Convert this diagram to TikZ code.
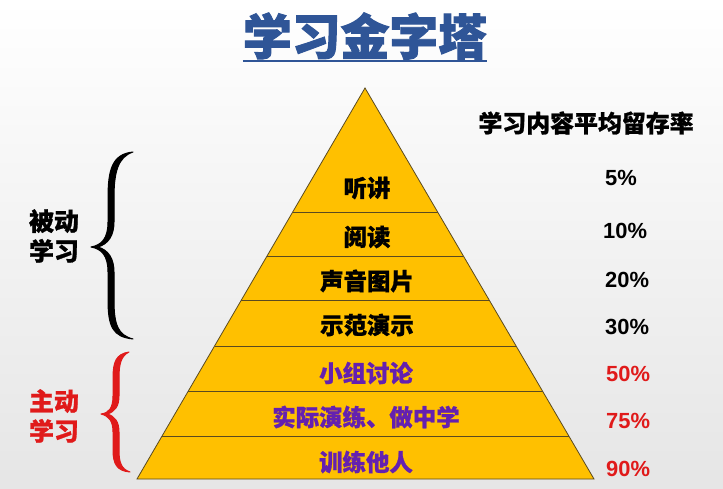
\documentclass[tikz,border=0pt]{standalone}
\usepackage{fontspec}
\usetikzlibrary{calc}
\newfontfamily\cjk{Noto Sans CJK SC}[BoldFeatures={FakeBold=1}]
\newfontfamily\cjkt{Noto Sans CJK SC}[BoldFeatures={FakeBold=2}]
\newfontfamily\lat{Liberation Sans}
\definecolor{pyrfill}{HTML}{FFC000}
\definecolor{pyredge}{HTML}{5A4A20}
\definecolor{titleblue}{HTML}{2F5597}
\definecolor{purp}{HTML}{6420B0}
\definecolor{redtxt}{HTML}{E01A1A}
\tikzset{
  layer/.style={font=\cjk\bfseries\fontsize{23.5}{26}\selectfont, inner sep=0pt},
  pct/.style={font=\lat\bfseries\fontsize{22}{24}\selectfont, inner sep=0pt, anchor=west},
  side/.style={font=\cjk\bfseries\fontsize{25}{30}\selectfont, inner sep=0pt, align=left},
  sep/.style={draw=pyredge, line width=0.8bp},
  bracestyle/.style={line width=1bp, line cap=round, line join=round}
}
\begin{document}
\begin{tikzpicture}[x=1bp,y=-1bp]
\useasboundingbox (0,0) rectangle (723,489);
\shade[top color=white, bottom color=black!10] (0,0) rectangle (723,489);
% title
\node[font=\cjkt\bfseries\fontsize{49}{52}\selectfont, text=titleblue, inner sep=0pt] (title) at (365,36) {学习金字塔};
\draw[titleblue, line width=2.2bp] (title.south west |- 0,61) coordinate (ul1) -- (title.south east |- 0,61) coordinate (ul2);
% pyramid
\coordinate (apex) at (365,88);
\coordinate (bl) at (137,479);
\coordinate (br) at (594,479);
\filldraw[fill=pyrfill, draw=pyredge, line width=0.8bp] (apex) -- (bl) -- (br) -- cycle;
\foreach \t in {0.317,0.430,0.542,0.660,0.777,0.890}
  \draw[sep] ($(apex)!\t!(bl)$) -- ($(apex)!\t!(br)$);
% layer labels
\node[layer] (l1) at (367,188) {听讲};
\node[layer] (l2) at (367,237) {阅读};
\node[layer] (l3) at (367,281) {声音图片};
\node[layer] (l4) at (367,325) {示范演示};
\node[layer, text=purp] (l5) at (366,373) {小组讨论};
\node[layer, text=purp] (l6) at (366,417) {实际演练、做中学};
\node[layer, text=purp] (l7) at (366,462) {训练他人};
% right column
\node[font=\cjk\bfseries\fontsize{24}{26}\selectfont, inner sep=0pt] (hdr) at (586,123) {学习内容平均留存率};
\node[pct] (p1) at (605,178) {5\%};
\node[pct] (p2) at (603,231) {10\%};
\node[pct] (p3) at (605,280) {20\%};
\node[pct] (p4) at (605,327) {30\%};
\node[pct, text=redtxt] (p5) at (606,374) {50\%};
\node[pct, text=redtxt] (p6) at (606,421) {75\%};
\node[pct, text=redtxt] (p7) at (606,469) {90\%};
% side labels
\node[side] (pas) at (54,236) {被动\\学习};
\node[side, text=redtxt] (act) at (54,416) {主动\\学习};
% braces (calligraphic, filled)
\coordinate (b1t) at (133,152);
\coordinate (b1m) at (91,247);
\coordinate (b1b) at (133,339);
\filldraw[bracestyle, black] (b1t) .. controls (112,154) and (108,170) .. (108,198) -- (108,222)
  .. controls (108,238) and (102,245) .. (b1m)
  .. controls (102,249) and (108,256) .. (108,272) -- (108,300)
  .. controls (108,327) and (113,337) .. (b1b)
  .. controls (118,335) and (114,325) .. (114,300) -- (114,272)
  .. controls (114,258) and (108,250) .. (98,247)
  .. controls (108,244) and (114,236) .. (114,222) -- (114,198)
  .. controls (114,172) and (118,157) .. (b1t) -- cycle;
\coordinate (b2t) at (129,352);
\coordinate (b2m) at (101,414);
\coordinate (b2b) at (130,472);
\filldraw[bracestyle, redtxt] (b2t) .. controls (116,354) and (113,362) .. (113,378) -- (113,396)
  .. controls (113,408) and (109,413) .. (b2m)
  .. controls (109,416) and (113,421) .. (113,432) -- (113,450)
  .. controls (113,464) and (117,471) .. (b2b)
  .. controls (121,469) and (119,462) .. (119,450) -- (119,432)
  .. controls (119,422) and (115,416) .. (107,414)
  .. controls (115,412) and (119,406) .. (119,396) -- (119,378)
  .. controls (119,364) and (121,356) .. (b2t) -- cycle;
\end{tikzpicture}
\end{document}
